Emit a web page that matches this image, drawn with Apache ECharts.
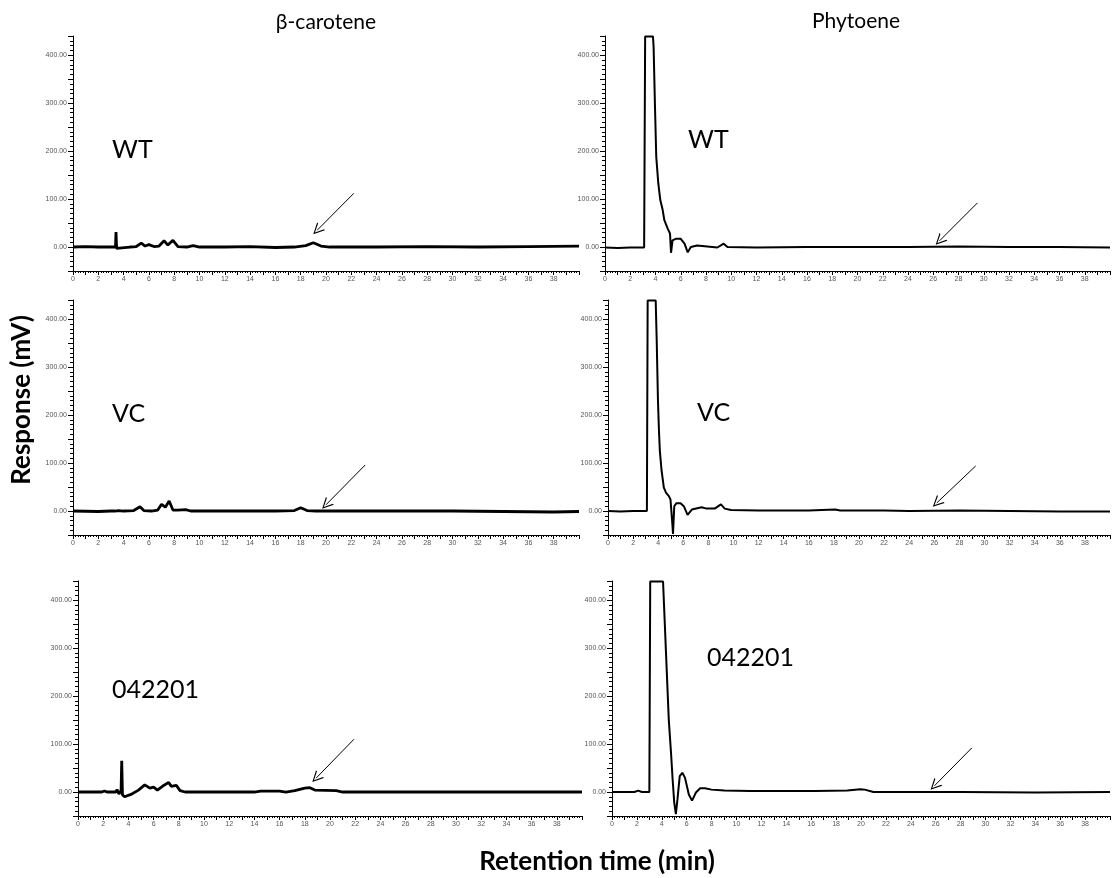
<!DOCTYPE html>
<html>
<head>
    <meta charset="utf-8">
    <title>Chromatograms</title>
    <script src="https://cdn.jsdelivr.net/npm/echarts@6/dist/echarts.min.js"></script>
    <style>
        html, body { margin: 0; padding: 0; background: #fff; }
        #main { width: 1113px; height: 878px; }
    </style>
</head>
<body>
    <div id="main"></div>
    <script>
        // retention time (min), response (mV)
        const betaWT = [[0,0],[1,1],[2,0],[3,0],[3.36,0],[3.4,31],[3.45,-3],[3.6,0],[4.5,0],[5.0,1],[5.4,8],[5.7,2],[6.0,5],[6.4,1],[6.8,2],[7.2,13],[7.5,4],[7.9,14],[8.3,1],[9.0,0],[9.5,3],[10,0],[12,0],[14,1],[16,-1],[17.5,0],[18.4,3],[19.0,9],[19.6,2],[20.3,0],[24,0],[28,1],[32,0],[36,1],[40,2]];
        const betaVC = [[0,0],[2,-1],[3,0],[3.3,0],[3.4,3],[3.6,1],[4,0],[4.8,1],[5.3,9],[5.6,1],[6.2,0],[6.7,2],[7.0,14],[7.3,8],[7.6,21],[7.9,2],[8.3,2],[8.9,3],[9.3,0],[12,0],[16,0],[17.5,1],[18.0,7],[18.5,1],[19.2,0],[24,0],[30,0],[34,-1],[38,-2],[40,-1]];
        const beta042201 = [[0,0],[1.9,0],[2.1,2],[2.3,0],[3.0,0],[3.1,5],[3.25,-4],[3.42,3],[3.47,65],[3.53,-6],[3.7,-10],[4.2,-5],[4.8,4],[5.3,15],[5.7,8],[6.0,10],[6.3,4],[6.7,12],[7.2,20],[7.4,12],[7.8,14],[8.1,3],[8.5,0],[10,0],[14,0],[14.5,2],[16.0,2],[16.5,0],[17.2,3],[18.0,8],[18.4,9],[18.8,4],[20.5,3],[21.0,0],[24,0],[30,0],[40,0]];
        const phyWT = [[0,-1],[1,-2],[2,-1],[3.1,-1],[3.17,0],[3.18,439],[3.8,439],[3.85,417],[3.96,292],[4.06,188],[4.22,133],[4.38,98],[4.57,77],[4.70,56],[4.96,39],[5.15,28],[5.23,-12],[5.35,14],[5.6,17],[6.0,17],[6.3,7],[6.55,-11],[6.8,0],[7.3,3],[8.1,1],[8.9,-1],[9.4,7],[9.7,0],[12,-1],[16,0],[20,0],[24,0],[28,1],[32,0],[36,0],[40,-1]];
        const phyVC = [[0,0],[1,-1],[2,0],[3.1,0],[3.14,1],[3.16,439],[3.8,439],[3.88,357],[3.98,231],[4.06,168],[4.13,126],[4.27,84],[4.45,49],[4.63,38],[4.85,31],[4.98,24],[5.13,-28],[5.18,-48],[5.28,10],[5.44,16],[5.78,16],[6.04,10],[6.34,-8],[6.68,3],[7.46,8],[7.85,5],[8.5,5],[9.0,14],[9.3,5],[9.8,2],[12,1],[16,1],[18.1,3],[18.5,1],[22,1],[24,0],[28,1],[32,0],[36,-1],[40,-1]];
        const phy042201 = [[0,0],[1.8,0],[2.1,3],[2.4,0],[3.0,0],[3.05,3],[3.07,439],[4.1,439],[4.56,151],[4.74,82],[4.87,26],[5.0,-22],[5.13,-46],[5.26,-15],[5.44,33],[5.65,40],[5.86,30],[6.17,-5],[6.43,-18],[6.74,-1],[7.08,8],[7.47,8],[7.99,5],[9.03,3],[11.1,2],[16.3,2],[18.9,3],[19.95,6],[20.3,5],[21.0,0],[28,0],[34,-1],[40,0]];

        // arrow annotations: [tail, head] in (min, mV)
        const arrowWT = [[22.2,112],[19.3,35]];
        const arrowVC = [[23.1,96],[20.0,13]];
        const arrow042201 = [[21.9,110],[18.9,29]];
        const arrowPhyWT = [[29.5,92],[26.5,13]];
        const arrowPhyVC = [[29.3,94],[26.2,17]];
        const arrowPhy042201 = [[28.9,92],[25.9,13]];

        const columnTitles = ['β-carotene', 'Phytoene'];
        const sampleNames = ['WT', 'VC', '042201'];

        const panels = [
            { left: 73,  top: 36,  width: 506, data: betaWT,     arrow: arrowWT,        lw: 2.8 },
            { left: 605, top: 36,  width: 505, data: phyWT,      arrow: arrowPhyWT,     lw: 2 },
            { left: 73,  top: 300, width: 506, data: betaVC,     arrow: arrowVC,        lw: 2.8 },
            { left: 608, top: 300, width: 509, data: phyVC,      arrow: arrowPhyVC,     lw: 2 },
            { left: 78,  top: 581, width: 504, data: beta042201, arrow: arrow042201,    lw: 2.8 },
            { left: 612, top: 581, width: 512, data: phy042201,  arrow: arrowPhy042201, lw: 2 }
        ];

        // open V arrow head
        const chevron = 'path://M5,0 L10,10 L8.8,10 L5,2.2 L1.2,10 L0,10 Z';

        var chartDom = document.getElementById('main');
        var myChart = echarts.init(chartDom);

        const option = {
            animation: false,
            grid: panels.map(p => ({ left: p.left, top: p.top, width: p.width, height: 235 })),
            xAxis: panels.map((p, i) => ({
                gridIndex: i,
                type: 'value',
                min: 0,
                max: 40,
                interval: 1,
                axisLine: { onZero: false, lineStyle: { color: '#000', width: 1 } },
                axisTick: { length: 4, lineStyle: { color: '#000' } },
                minorTick: { show: true, splitNumber: 5, length: 2, lineStyle: { color: '#000' } },
                splitLine: { show: false },
                axisLabel: {
                    fontSize: 7,
                    color: '#555',
                    margin: 5,
                    formatter: v => (v % 2 === 0 && v < 40) ? String(v) : ''
                }
            })),
            yAxis: panels.map((p, i) => ({
                gridIndex: i,
                type: 'value',
                min: -50,
                max: 440,
                interval: 50,
                axisLine: { show: true, lineStyle: { color: '#000', width: 1 } },
                axisTick: { show: true, length: 5, lineStyle: { color: '#000' } },
                minorTick: { show: true, splitNumber: 5, length: 3, lineStyle: { color: '#000' } },
                splitLine: { show: false },
                axisLabel: {
                    fontSize: 7,
                    color: '#555',
                    margin: 6,
                    formatter: v => (v >= 0 && v % 100 === 0) ? v.toFixed(2) : ''
                }
            })),
            series: panels.map((p, i) => ({
                type: 'line',
                xAxisIndex: i,
                yAxisIndex: i,
                data: p.data,
                showSymbol: false,
                symbol: 'none',
                lineStyle: { color: '#000', width: p.lw },
                markLine: {
                    silent: true,
                    symbol: ['none', chevron],
                    symbolSize: [11, 11],
                    label: { show: false },
                    lineStyle: { color: '#000', width: 1, type: 'solid' },
                    data: [[{ coord: p.arrow[0] }, { coord: p.arrow[1] }]]
                }
            })),
            graphic: [
                { type: 'text', x: 326, y: 22, style: { text: columnTitles[0], font: '21px Lato', fill: '#000', align: 'center', verticalAlign: 'middle', textAlign: 'center', textVerticalAlign: 'middle' } },
                { type: 'text', x: 856, y: 21, style: { text: columnTitles[1], font: '21px Lato', fill: '#000', align: 'center', verticalAlign: 'middle', textAlign: 'center', textVerticalAlign: 'middle' } },
                { type: 'text', x: 112, y: 150, style: { text: sampleNames[0], font: '25px Lato', fill: '#000', verticalAlign: 'middle', textVerticalAlign: 'middle' } },
                { type: 'text', x: 112, y: 414, style: { text: sampleNames[1], font: '25px Lato', fill: '#000', verticalAlign: 'middle', textVerticalAlign: 'middle' } },
                { type: 'text', x: 112, y: 690, style: { text: sampleNames[2], font: '25px Lato', fill: '#000', verticalAlign: 'middle', textVerticalAlign: 'middle' } },
                { type: 'text', x: 688, y: 140, style: { text: sampleNames[0], font: '25px Lato', fill: '#000', verticalAlign: 'middle', textVerticalAlign: 'middle' } },
                { type: 'text', x: 697, y: 413, style: { text: sampleNames[1], font: '25px Lato', fill: '#000', verticalAlign: 'middle', textVerticalAlign: 'middle' } },
                { type: 'text', x: 707, y: 658, style: { text: sampleNames[2], font: '25px Lato', fill: '#000', verticalAlign: 'middle', textVerticalAlign: 'middle' } },
                { type: 'text', x: 22, y: 400, rotation: Math.PI / 2, style: { text: 'Response (mV)', font: 'bold 26px Lato', fill: '#000', align: 'center', verticalAlign: 'middle', textAlign: 'center', textVerticalAlign: 'middle' } },
                { type: 'text', x: 597, y: 862, style: { text: 'Retention time (min)', font: 'bold 26px Lato', fill: '#000', align: 'center', verticalAlign: 'middle', textAlign: 'center', textVerticalAlign: 'middle' } }
            ]
        };

        myChart.setOption(option);
        window.addEventListener('resize', function() {
            myChart.resize();
        });
    </script>
</body>
</html>
